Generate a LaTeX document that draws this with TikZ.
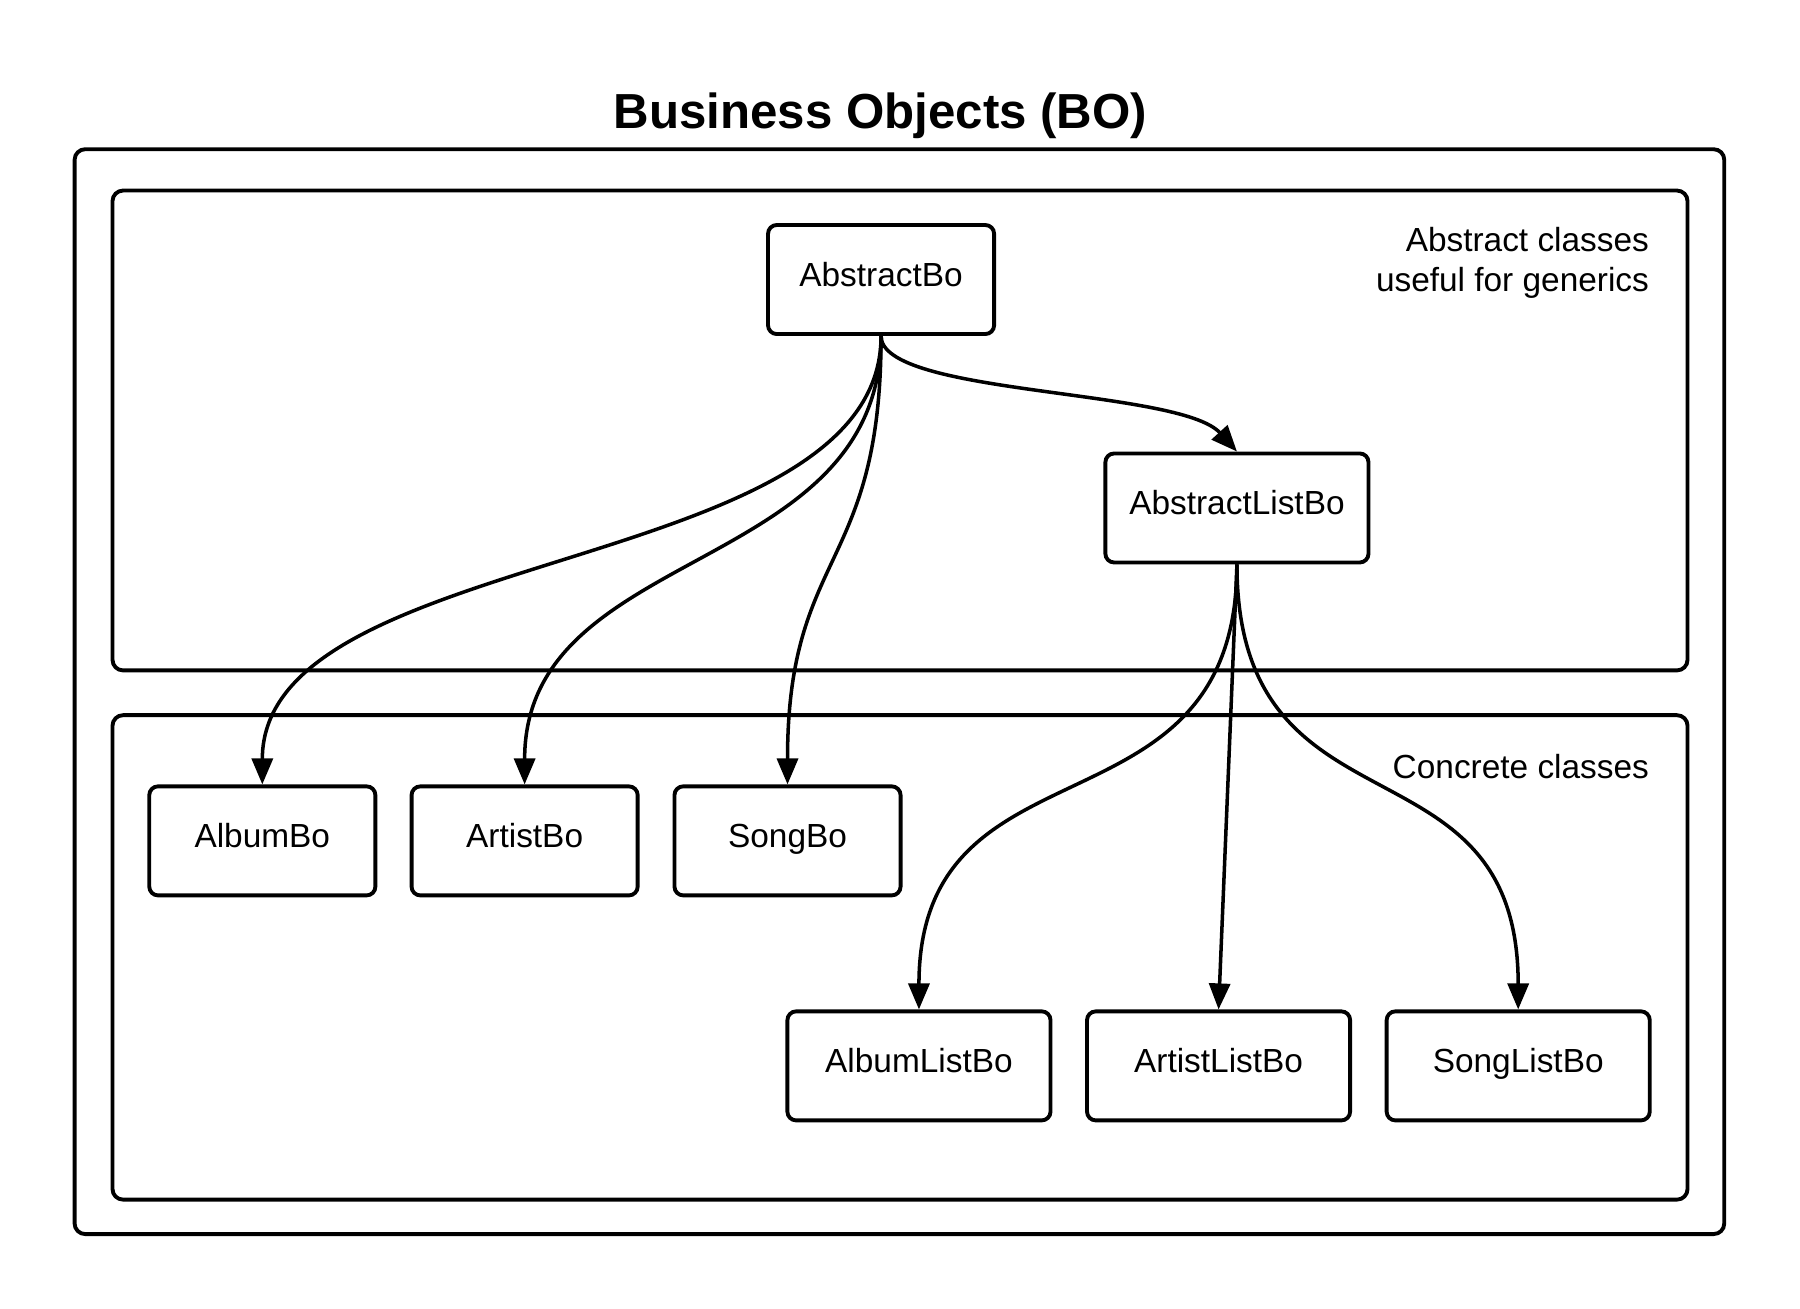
\documentclass[tikz,border=0pt]{standalone}
\usepackage{fontspec}
\setmainfont{Liberation Sans}
\usetikzlibrary{arrows.meta}
\tikzset{
  bobox/.style={
    draw=black, line width=1.1pt, rounded corners=2.5pt,
    align=center, inner sep=0pt, font=\fontsize{9.5}{11.4}\selectfont,
    text height=6.8pt, text depth=3pt,
    minimum width=22.6mm, minimum height=10.9mm
  },
  listbox/.style={bobox, minimum width=26.3mm},
  grp/.style={draw=black, line width=1.1pt, rounded corners=3pt},
  arr/.style={-{Triangle[length=2.6mm,width=2.1mm]}, draw=black, line width=1pt},
  anno/.style={font=\fontsize{9.5}{11.4}\selectfont, align=right, anchor=east, inner sep=0pt},
  ttl/.style={font=\fontsize{14}{17}\selectfont\bfseries}
}

\begin{document}
\begin{tikzpicture}[x=0.01148cm,y=-0.01148cm]
  \useasboundingbox (0,0) rectangle (1568,1140);
  % frames
  \node[ttl] (title) at (767,101) {Business Objects (BO)};
  \draw[grp] (65,130) rectangle (1502,1075);
  \draw[grp] (98,166) rectangle (1470,584);
  \draw[grp] (98,623) rectangle (1470,1045);
  \node[anno] (absnote) at (1437,229) {Abstract classes\\useful for generics};
  \node[anno] (connote) at (1437,668) {Concrete classes};
  % abstract classes
  \node[bobox] (abo) at (767.5,243.5) {AbstractBo};
  \node[listbox] (alo) at (1077.5,442.5) {AbstractListBo};
  % concrete classes
  \node[bobox] (album) at (228.5,732.5) {AlbumBo};
  \node[bobox] (artist) at (457,732.5) {ArtistBo};
  \node[bobox] (song) at (686,732.5) {SongBo};
  \node[listbox] (albumlist) at (800.5,928.5) {AlbumListBo};
  \node[listbox] (artistlist) at (1061.5,928.5) {ArtistListBo};
  \node[listbox] (songlist) at (1322.5,928.5) {SongListBo};
  % inheritance
  \draw[arr] (abo.south) .. controls +(0,52) and +(-50,-55) .. (alo.north);
  \draw[arr] (abo.south) .. controls +(0,210) and +(0,-210) .. (album.north);
  \draw[arr] (abo.south) .. controls +(0,210) and +(0,-210) .. (artist.north);
  \draw[arr] (abo.south) .. controls +(0,205) and +(0,-205) .. (song.north);
  \draw[arr] (alo.south) .. controls +(0,245) and +(0,-245) .. (albumlist.north);
  \draw[arr] (alo.south) -- (artistlist.north);
  \draw[arr] (alo.south) .. controls +(0,245) and +(0,-245) .. (songlist.north);
\end{tikzpicture}
\end{document}
